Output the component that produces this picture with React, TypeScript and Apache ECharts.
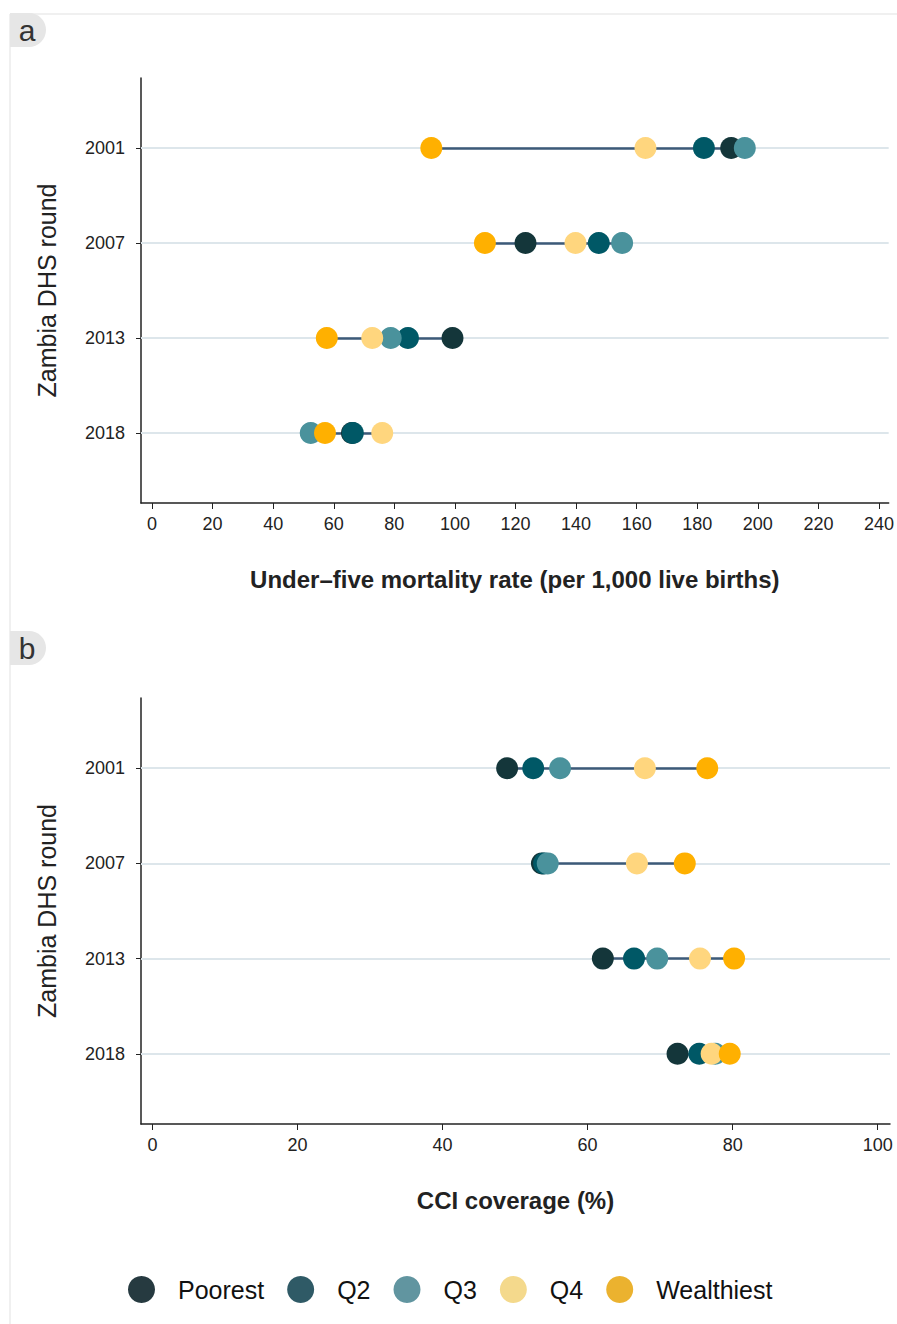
import React, { useEffect, useRef } from "react";
import * as echarts from "echarts";

const years = ["2001", "2007", "2013", "2018"];
const groups = ["Poorest", "Q2", "Q3", "Q4", "Wealthiest"];

// Panel a: under-five mortality rate (per 1,000 live births)
const u5mrPoorest = [191.2, 123.3, 99.2, 66.0];
const u5mrQ2 = [182.2, 147.5, 84.5, 66.3];
const u5mrQ3 = [195.7, 155.2, 78.8, 52.4];
const u5mrQ4 = [162.9, 139.8, 72.7, 76.0];
const u5mrWealthiest = [92.2, 109.9, 57.7, 57.1];

// Panel b: CCI coverage (%)
const cciPoorest = [48.9, 53.7, 62.1, 72.4];
const cciQ2 = [52.5, 54.0, 66.4, 75.4];
const cciQ3 = [56.2, 54.5, 69.6, 77.6];
const cciQ4 = [67.9, 66.8, 75.5, 77.1];
const cciWealthiest = [76.5, 73.4, 80.2, 79.6];

const u5mrTicks = [0, 20, 40, 60, 80, 100, 120, 140, 160, 180, 200, 220, 240];
const cciTicks = [0, 20, 40, 60, 80, 100];
const yPositions = [1, 2, 3, 4];

const pointColors = ["#14363a", "#005866", "#4a929c", "#ffd67e", "#ffb000"];
const legendColors = ["#263a40", "#2f5a66", "#6195a0", "#f4d98c", "#ebb22f"];

const FONT = "Liberation Sans, Arial, Helvetica, sans-serif";

function panelAxes(gridIndex: number, xMin: number, xMax: number, ticks: number[], title: string) {
  const x = {
    gridIndex,
    type: "value",
    min: xMin,
    max: xMax,
    axisLine: { show: true, onZero: false, lineStyle: { color: "#222", width: 1.5 } },
    axisTick: { show: true, customValues: ticks, length: 6, lineStyle: { color: "#222", width: 1 } },
    axisLabel: { customValues: ticks, fontSize: 18, color: "#222", margin: 12, fontFamily: FONT },
    splitLine: { show: false },
    name: title,
    nameLocation: "middle",
    nameGap: 64,
    nameTextStyle: { fontSize: 24, fontWeight: "bold", color: "#222", fontFamily: FONT },
  };
  const y = {
    gridIndex,
    type: "value",
    inverse: true,
    min: 0.263,
    max: 4.737,
    axisLine: { show: true, onZero: false, lineStyle: { color: "#222", width: 1.5 } },
    axisTick: { show: true, customValues: yPositions, length: 5, lineStyle: { color: "#222", width: 1 } },
    axisLabel: {
      customValues: yPositions,
      formatter: (v: number) => years[Math.round(v) - 1] ?? "",
      fontSize: 18,
      color: "#222",
      margin: 16,
      fontFamily: FONT,
    },
    splitLine: { show: false },
    name: "Zambia DHS round",
    nameLocation: "middle",
    nameGap: 82,
    nameTextStyle: { fontSize: 25, color: "#222", fontFamily: FONT },
  };
  return { x, y };
}

function panelSeries(sets: number[][], gridIndex: number, xMin: number, xMax: number) {
  const out: any[] = [];
  out.push({
    type: "lines",
    coordinateSystem: "cartesian2d",
    xAxisIndex: gridIndex,
    yAxisIndex: gridIndex,
    silent: true,
    z: 1,
    lineStyle: { color: "#dde6eb", width: 2, opacity: 1 },
    data: yPositions.map((p) => ({ coords: [[xMin, p], [xMax, p]] })),
  });
  out.push({
    type: "lines",
    coordinateSystem: "cartesian2d",
    xAxisIndex: gridIndex,
    yAxisIndex: gridIndex,
    silent: true,
    z: 2,
    lineStyle: { color: "#3c5a78", width: 2.5, opacity: 1 },
    data: yPositions.map((p, i) => {
      const vals = sets.map((s) => s[i]);
      return { coords: [[Math.min(...vals), p], [Math.max(...vals), p]] };
    }),
  });
  groups.forEach((g, k) => {
    out.push({
      type: "scatter",
      name: g,
      xAxisIndex: gridIndex,
      yAxisIndex: gridIndex,
      symbol: "circle",
      symbolSize: 22,
      z: 3,
      itemStyle: { color: pointColors[k], opacity: 1 },
      data: sets[k].map((v, i) => [v, yPositions[i]]),
    });
  });
  return out;
}

export default function App() {
  const ref = useRef<HTMLDivElement>(null);
  useEffect(() => {
    if (!ref.current) return;
    const chart = echarts.init(ref.current, undefined, { renderer: "svg" });
    const aMin = -3.64, aMax = 243.2;
    const bMin = -1.59, bMax = 101.7;
    const a = panelAxes(0, aMin, aMax, u5mrTicks, "Under–five mortality rate (per 1,000 live births)");
    const b = panelAxes(1, bMin, bMax, cciTicks, "CCI coverage (%)");
    const option: any = {
      animation: false,
      backgroundColor: "#ffffff",
      textStyle: { fontFamily: FONT },
      grid: [
        { left: 141, right: 7, top: 78, height: 425 },
        { left: 141, right: 7, top: 698, height: 426 },
      ],
      xAxis: [a.x, b.x],
      yAxis: [a.y, b.y],
      legend: {
        left: 123,
        top: 1271,
        itemWidth: 27,
        itemHeight: 27,
        itemGap: 23,
        icon: "circle",
        selectedMode: false,
        textStyle: { fontSize: 25, color: "#111", fontFamily: FONT, padding: [0, 0, 0, 18] },
        data: groups.map((g, k) => ({ name: g, icon: "circle", itemStyle: { color: legendColors[k] } })),
      },
      graphic: [
        { type: "line", silent: true, shape: { x1: 10, y1: 14, x2: 897, y2: 14 }, style: { stroke: "#ebebeb", lineWidth: 1.5 } },
        { type: "line", silent: true, shape: { x1: 10, y1: 14, x2: 10, y2: 1324 }, style: { stroke: "#ebebeb", lineWidth: 1.5 } },
        { type: "rect", silent: true, shape: { x: 10, y: 13, width: 36, height: 34, r: [0, 17, 17, 0] }, style: { fill: "#e6e6e6" } },
        { type: "text", silent: true, x: 27, y: 30, style: { text: "a", fontSize: 30, fill: "#333", align: "center", verticalAlign: "middle", fontFamily: FONT } },
        { type: "rect", silent: true, shape: { x: 10, y: 631, width: 36, height: 34, r: [0, 17, 17, 0] }, style: { fill: "#e6e6e6" } },
        { type: "text", silent: true, x: 27, y: 648, style: { text: "b", fontSize: 30, fill: "#333", align: "center", verticalAlign: "middle", fontFamily: FONT } },
      ],
      series: [
        ...panelSeries([u5mrPoorest, u5mrQ2, u5mrQ3, u5mrQ4, u5mrWealthiest], 0, aMin, aMax),
        ...panelSeries([cciPoorest, cciQ2, cciQ3, cciQ4, cciWealthiest], 1, bMin, bMax),
      ],
    };
    chart.setOption(option);
    return () => chart.dispose();
  }, []);
  return (
    <div
      ref={ref}
      style={{ position: "absolute", left: 0, top: 0, width: 897, height: 1324 }}
    />
  );
}
